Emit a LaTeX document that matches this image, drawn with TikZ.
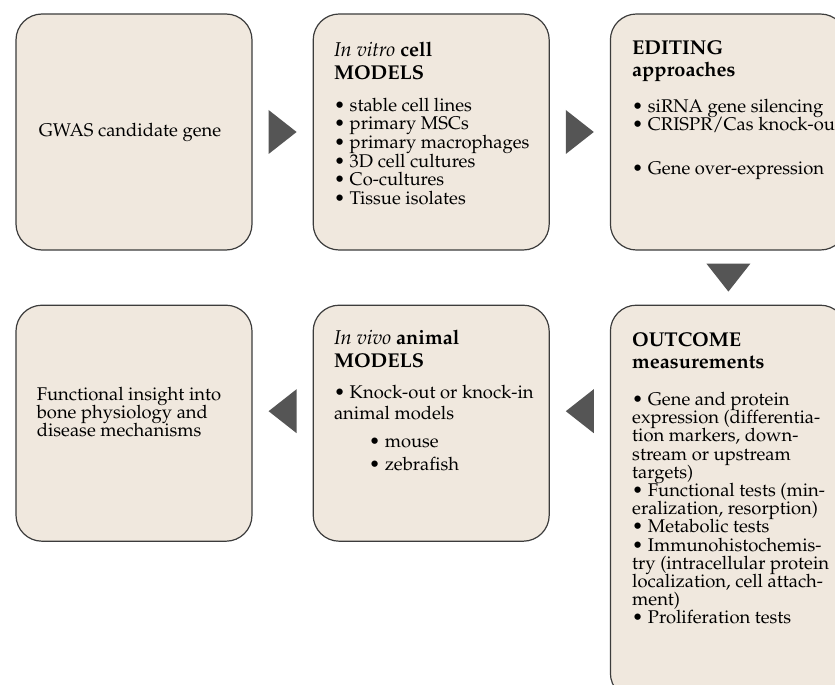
\documentclass[tikz,border=0pt]{standalone}
\usepackage[T1]{fontenc}
\renewcommand{\rmdefault}{ppl}
\usepackage{xcolor}
\usepackage{tikz}
\usetikzlibrary{positioning,calc}

\definecolor{boxfill}{RGB}{240,232,222}
\definecolor{boxline}{RGB}{60,60,60}
\definecolor{arrowgray}{RGB}{85,85,85}

\newcommand{\bodyfont}{\fontsize{9.2pt}{9.1pt}\selectfont\lineskiplimit=-5pt\relax}
\newcommand{\listfont}{\fontsize{9.2pt}{9.35pt}\selectfont\lineskiplimit=-5pt\relax}
\newcommand{\ttlfont}{\fontsize{10pt}{9.1pt}\selectfont\bfseries}

\begin{document}
\begin{tikzpicture}[node distance=30pt,
    box/.style={draw=boxline, line width=0.6pt, fill=boxfill, rounded corners=13pt,
                minimum width=118pt, minimum height=118pt, inner sep=0pt},
    txt/.style={inner sep=0pt, align=left, font=\bodyfont}]
    \path[use as bounding box, clip] (-67pt,-276.5pt) rectangle (350.5pt,66pt);

    % boxes
    \node [box] (gwas) {};
    \node [box, right=of gwas] (vitro) {};
    \node [box, right=of vitro] (editing) {};
    \node [box, below=27pt of editing, minimum height=197pt] (outcome) {};
    \node [box, below=27pt of vitro] (vivo) {};
    \node [box, below=27pt of gwas] (insight) {};

    % texts
    \node [txt, right=11.5pt of gwas.west] (gwastext) {GWAS candidate gene};
    \node [txt, below right=14pt and 10.5pt of vitro.north west, font=\listfont] (vitrotext)
        {{\ttlfont\textit{\mdseries In vitro} cell}\\[2.2pt]
         {\ttlfont MODELS}\\[6.5pt]
         \textbullet~stable cell lines\\
         \textbullet~primary MSCs\\
         \textbullet~primary macrophages\\
         \textbullet~3D cell cultures\\
         \textbullet~Co-cultures\\
         \textbullet~Tissue isolates};
    \node [txt, below right=13.5pt and 11pt of editing.north west] (editingtext)
        {{\ttlfont EDITING}\\[1.9pt]
         {\ttlfont approaches}\\[8.6pt]
         \textbullet~siRNA gene silencing\\
         \textbullet~CRISPR/Cas knock-out\\[13pt]
         \textbullet~Gene over-expression};
    \node [txt, below right=13.5pt and 11pt of outcome.north west] (outcometext)
        {{\ttlfont OUTCOME}\\[2.2pt]
         {\ttlfont measurements}\\[9.3pt]
         \textbullet~Gene and protein\\
         expression (differentia-\\
         tion markers, down-\\
         stream or upstream\\
         targets)\\
         \textbullet~Functional tests (min-\\
         eralization, resorption)\\
         \textbullet~Metabolic tests\\
         \textbullet~Immunohistochemis-\\
         try (intracellular protein\\
         localization, cell attach-\\
         ment)\\
         \textbullet~Proliferation tests};
    \node [txt, below right=12.5pt and 10.5pt of vivo.north west] (vivotext)
        {{\ttlfont\textit{\mdseries In vivo} animal}\\[2.6pt]
         {\ttlfont MODELS}\\[6.4pt]
         \textbullet~Knock-out or knock-in\\[1pt]
         animal models\\[4.9pt]
         \hspace*{17.5pt}\textbullet~mouse\\[2.8pt]
         \hspace*{17.5pt}\textbullet~zebrafish};
    \node [txt, right=10.5pt of insight.west, yshift=5.5pt] (insighttext)
        {Functional insight into\\ bone physiology and\\ disease mechanisms};

    % arrows between the boxes
    \fill [arrowgray] ($(gwas.east)!0.5!(vitro.west)$) +(7pt,0) -- +(-7pt,11pt) -- +(-7pt,-11pt) -- cycle;
    \fill [arrowgray] ($(vitro.east)!0.5!(editing.west)$) +(7pt,0) -- +(-7pt,11pt) -- +(-7pt,-11pt) -- cycle;
    \fill [arrowgray] ($(editing.south)!0.5!(outcome.north)$) +(0,-7pt) -- +(11pt,7pt) -- +(-11pt,7pt) -- cycle;
    \fill [arrowgray] ($(vivo.east)!0.5!(outcome.west |- vivo.east)+(0,6pt)$) +(-7pt,0) -- +(7pt,11pt) -- +(7pt,-11pt) -- cycle;
    \fill [arrowgray] ($(insight.east)!0.5!(vivo.west)+(0,6pt)$) +(-7pt,0) -- +(7pt,11pt) -- +(7pt,-11pt) -- cycle;
\end{tikzpicture}
\end{document}
